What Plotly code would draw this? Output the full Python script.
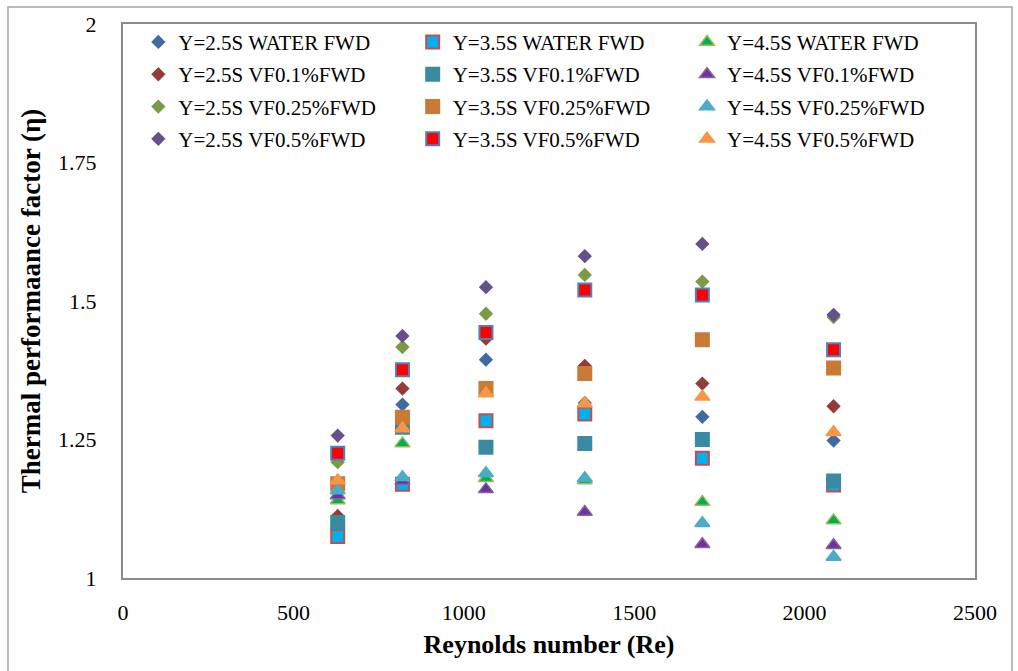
import plotly.graph_objects as go

# Reynolds numbers (one column of points per value)
re_values = [630, 820, 1065, 1355, 1700, 2085]

# Thermal performance factor for each series
y25_water = [1.160, 1.313, 1.394, 1.316, 1.291, 1.248]
y35_water = [1.075, 1.169, 1.284, 1.296, 1.216, 1.168]
y45_water = [1.140, 1.243, 1.180, 1.176, 1.137, 1.104]
y25_vf01 = [1.112, 1.342, 1.432, 1.383, 1.351, 1.310]
y35_vf01 = [1.100, 1.272, 1.236, 1.243, 1.250, 1.175]
y45_vf01 = [1.149, 1.175, 1.160, 1.119, 1.061, 1.059]
y25_vf025 = [1.209, 1.417, 1.477, 1.547, 1.535, 1.471]
y35_vf025 = [1.170, 1.290, 1.342, 1.369, 1.430, 1.379]
y45_vf025 = [1.158, 1.182, 1.189, 1.180, 1.099, 1.038]
y25_vf05 = [1.257, 1.437, 1.525, 1.581, 1.603, 1.475]
y35_vf05 = [1.225, 1.376, 1.443, 1.520, 1.511, 1.412]
y45_vf05 = [1.176, 1.270, 1.333, 1.315, 1.327, 1.263]

x_ticks = [0, 500, 1000, 1500, 2000, 2500]
y_ticks = [1, 1.25, 1.5, 1.75, 2]

FONT = "Liberation Serif"

# (name, values, symbol, fill, border, legend)
series = [
    ("Y=2.5S WATER FWD", y25_water, "diamond", "#3F6BA0", "#3F6BA0", "legend"),
    ("Y=3.5S WATER FWD", y35_water, "square", "#00B0F0", "#C0504D", "legend2"),
    ("Y=4.5S WATER FWD", y45_water, "triangle-up", "#00B050", "#9BBB59", "legend3"),
    ("Y=2.5S VF0.1%FWD", y25_vf01, "diamond", "#943C3A", "#943C3A", "legend"),
    ("Y=3.5S VF0.1%FWD", y35_vf01, "square", "#3A8BA2", "#3A8BA2", "legend2"),
    ("Y=4.5S VF0.1%FWD", y45_vf01, "triangle-up", "#7030A0", "#8064A2", "legend3"),
    ("Y=2.5S VF0.25%FWD", y25_vf025, "diamond", "#7A9A45", "#7A9A45", "legend"),
    ("Y=3.5S VF0.25%FWD", y35_vf025, "square", "#C97A37", "#C97A37", "legend2"),
    ("Y=4.5S VF0.25%FWD", y45_vf025, "triangle-up", "#4BACC6", "#4BACC6", "legend3"),
    ("Y=2.5S VF0.5%FWD", y25_vf05, "diamond", "#65508A", "#65508A", "legend"),
    ("Y=3.5S VF0.5%FWD", y35_vf05, "square", "#FF0000", "#4F81BD", "legend2"),
    ("Y=4.5S VF0.5%FWD", y45_vf05, "triangle-up", "#F79646", "#F79646", "legend3"),
]

fig = go.Figure()
for i, (name, vals, sym, fill, border, leg) in enumerate(series):
    if sym == "diamond":
        size, lw = 11, 0
    elif sym == "square":
        size, lw = 13, 2
    else:
        size, lw = 13, 1.5
    fig.add_trace(go.Scatter(
        x=re_values, y=vals, mode="markers", name=name,
        marker=dict(symbol=sym, size=size, color=fill,
                    line=dict(color=border, width=lw)),
        legend=leg, legendgroup=name,
    ))

leg_common = dict(
    orientation="v", y=1.004, yanchor="top", xanchor="left",
    bgcolor="rgba(0,0,0,0)", borderwidth=0, tracegroupgap=2,
    traceorder="grouped",
    font=dict(family=FONT, size=21, color="black"),
)

fig.update_layout(
    width=1018, height=671,
    margin=dict(l=123, r=43, t=22, b=93),
    paper_bgcolor="white", plot_bgcolor="white",
    font=dict(family=FONT, color="black"),
    showlegend=True,
    legend=dict(x=0.018, **leg_common),
    legend2=dict(x=0.340, **leg_common),
    legend3=dict(x=0.662, **leg_common),
    xaxis=dict(
        range=[0, 2500], tickvals=x_ticks, showgrid=False, zeroline=False,
        showline=True, linecolor="#8a8a8a", linewidth=2, mirror=True,
        ticks="", ticklabelstandoff=14,
        tickfont=dict(family=FONT, size=22, color="black"),
        title=dict(text="<b>Reynolds number (Re)</b>", standoff=10,
                   font=dict(family=FONT, size=26, color="black")),
    ),
    yaxis=dict(
        range=[1, 2], tickvals=y_ticks, showgrid=False, zeroline=False,
        showline=True, linecolor="#8a8a8a", linewidth=2, mirror=True,
        ticks="", ticklabelstandoff=20,
        tickfont=dict(family=FONT, size=22, color="black"),
        title=dict(text="<b>Thermal performaance factor (η)</b>", standoff=10,
                   font=dict(family=FONT, size=27, color="black")),
    ),
    shapes=[dict(type="rect", xref="paper", yref="paper",
                 x0=-0.135, x1=1.0434, y0=-0.2, y1=1.0306,
                 line=dict(color="#a6a6a6", width=1.5), layer="below")],
)

fig.write_html("out.html")
